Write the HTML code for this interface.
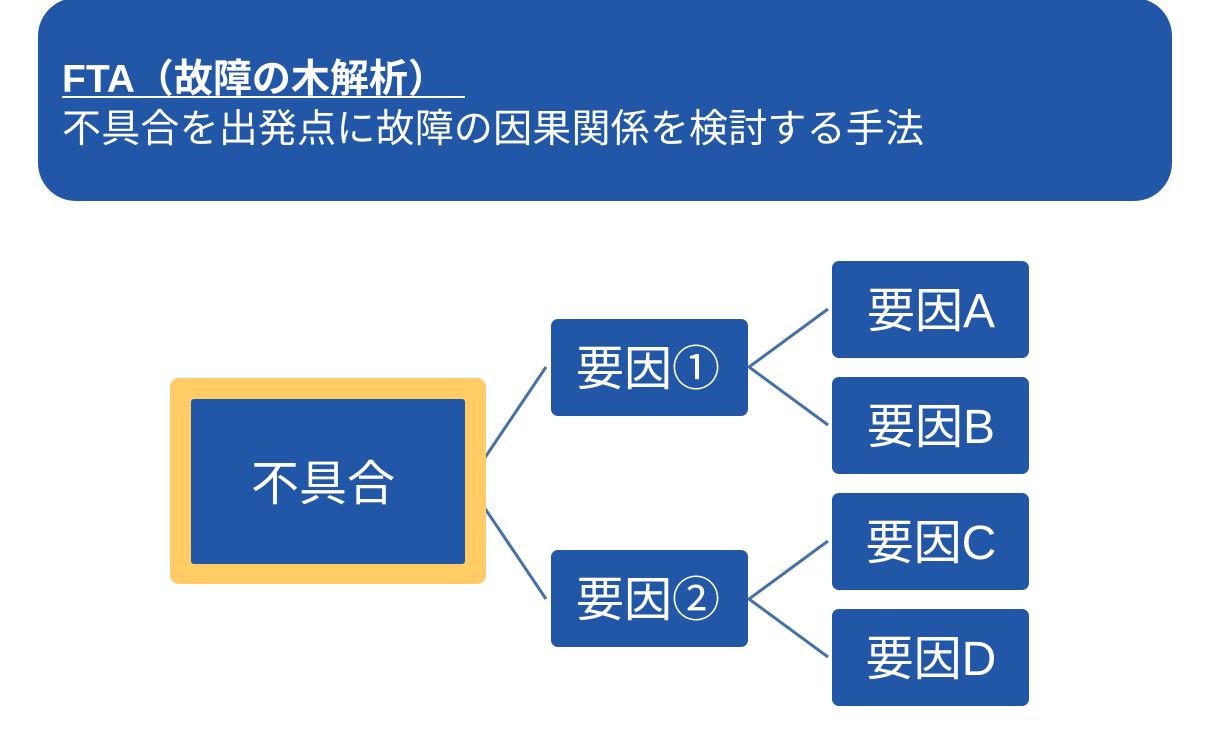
<!DOCTYPE html>
<html>
<head>
<meta charset="utf-8">
<style>
  html,body{margin:0;padding:0;background:#ffffff;}
  body{width:1209px;height:737px;overflow:hidden;}
  svg{display:block;}
  text{font-family:"Liberation Sans","Noto Sans CJK JP",sans-serif;fill:#ffffff;}
</style>
</head>
<body>
<svg width="1209" height="737" viewBox="0 0 1209 737" xmlns="http://www.w3.org/2000/svg">
  <!-- header -->
  <rect x="38" y="-2" width="1134" height="203" rx="38" ry="38" fill="#2257a8"/>
  <text x="62" y="92" font-size="39" font-weight="bold">FTA（故障の木解析）</text>
  <rect x="62" y="96" width="403" height="2" fill="#ffffff"/>
  <text x="62" y="142" font-size="39" textLength="862" lengthAdjust="spacing">不具合を出発点に故障の因果関係を検討する手法</text>

  <!-- connectors -->
  <g stroke="#4571a8" stroke-width="3" fill="none">
    <line x1="484" y1="459" x2="546" y2="367"/>
    <line x1="484" y1="507" x2="546" y2="599"/>
    <polyline points="828,309 749,367 828,425"/>
    <polyline points="828,541 749,599 828,657"/>
  </g>

  <!-- main node -->
  <rect x="170" y="378" width="316" height="206" rx="9" ry="9" fill="#ffcc66"/>
  <rect x="191" y="399" width="274" height="165" rx="3" ry="3" fill="#2257a8"/>
  <text x="323" y="500" font-size="48" text-anchor="middle">不具合</text>

  <!-- level 2 -->
  <rect x="551" y="319" width="197" height="97" rx="7" ry="7" fill="#2257a8"/>
  <text x="648" y="385" font-size="48" text-anchor="middle">要因①</text>
  <rect x="551" y="550" width="197" height="97" rx="7" ry="7" fill="#2257a8"/>
  <text x="648" y="616" font-size="48" text-anchor="middle">要因②</text>

  <!-- level 3 -->
  <rect x="832" y="261" width="197" height="97" rx="7" ry="7" fill="#2257a8"/>
  <text x="931" y="327" font-size="48" text-anchor="middle">要因A</text>
  <rect x="832" y="377" width="197" height="97" rx="7" ry="7" fill="#2257a8"/>
  <text x="931" y="443" font-size="48" text-anchor="middle">要因B</text>
  <rect x="832" y="493" width="197" height="97" rx="7" ry="7" fill="#2257a8"/>
  <text x="931" y="559" font-size="48" text-anchor="middle">要因C</text>
  <rect x="832" y="609" width="197" height="97" rx="7" ry="7" fill="#2257a8"/>
  <text x="931" y="675" font-size="48" text-anchor="middle">要因D</text>
</svg>
</body>
</html>
